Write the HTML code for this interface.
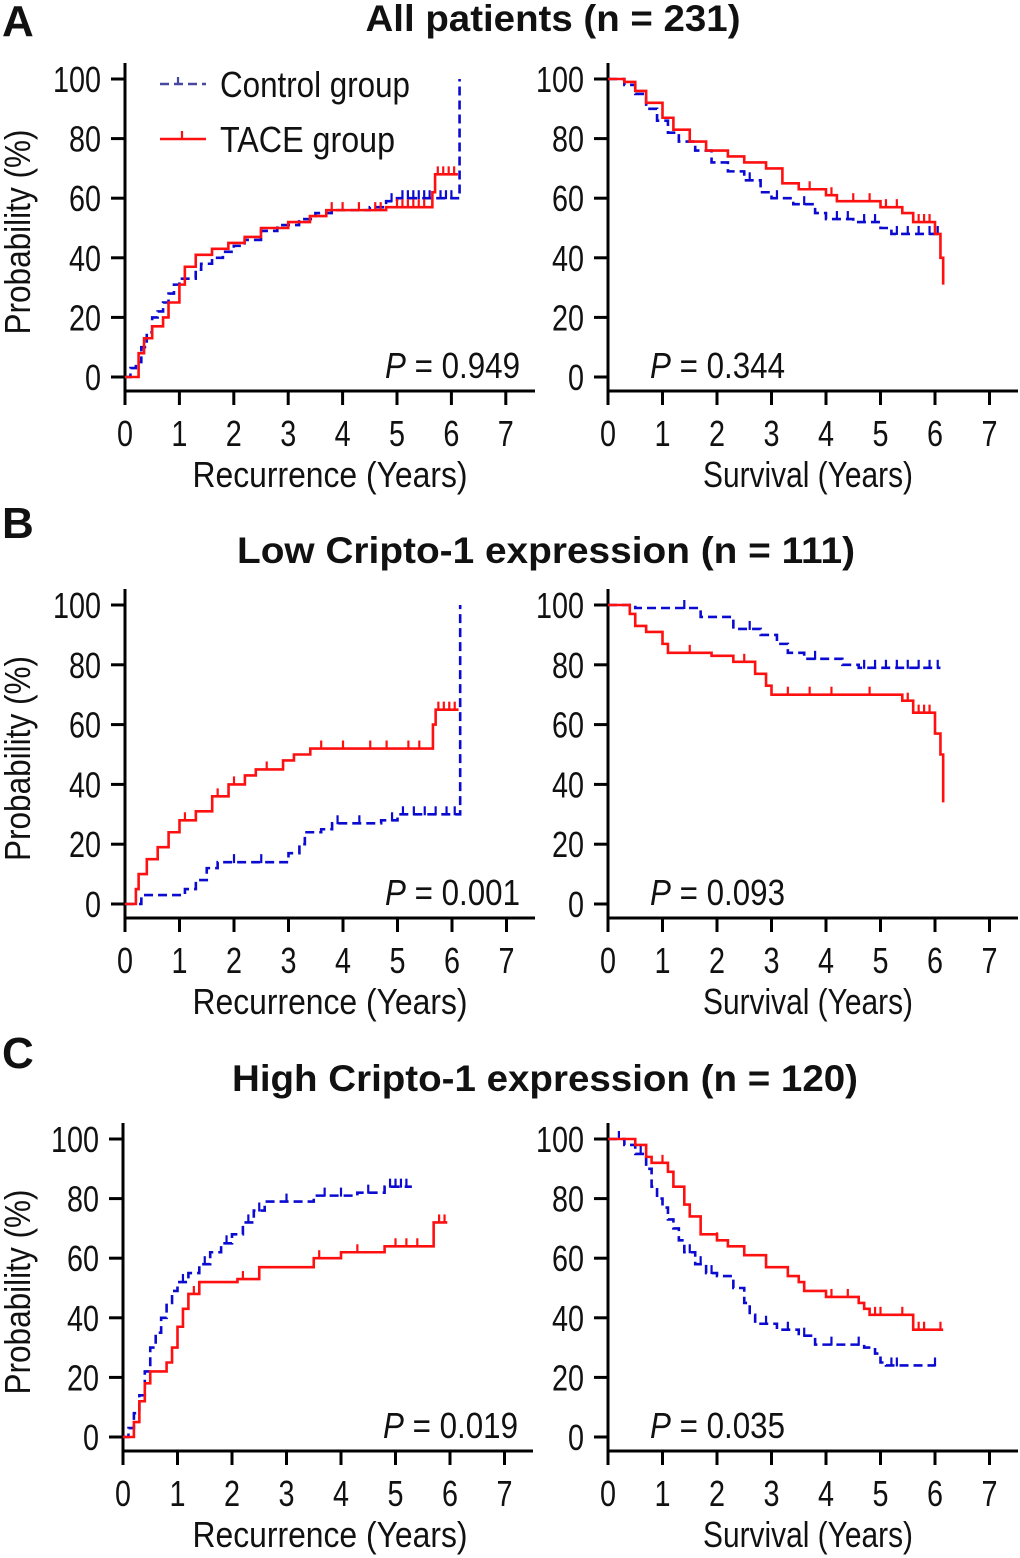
<!DOCTYPE html>
<html><head><meta charset="utf-8">
<style>
html,body{margin:0;padding:0;background:#fff;}
svg{display:block;}
.tk{font-family:"Liberation Sans",sans-serif;font-size:36px;fill:#111;}
.ttl{font-family:"Liberation Sans",sans-serif;font-size:37px;font-weight:bold;fill:#111;}
.lab{font-family:"Liberation Sans",sans-serif;font-size:44px;font-weight:bold;fill:#111;}
</style></head>
<body>
<svg id="fig" width="1020" height="1558" viewBox="0 0 1020 1558" xmlns="http://www.w3.org/2000/svg">
<text class="lab" x="2" y="36">A</text>
<text class="ttl" x="553" y="31" text-anchor="middle" textLength="375" lengthAdjust="spacingAndGlyphs">All patients (n = 231)</text>
<text class="lab" x="2" y="538">B</text>
<text class="ttl" x="546" y="563" text-anchor="middle" textLength="618" lengthAdjust="spacingAndGlyphs">Low Cripto-1 expression (n = 111)</text>
<text class="lab" x="2" y="1068">C</text>
<text class="ttl" x="545" y="1091" text-anchor="middle" textLength="626" lengthAdjust="spacingAndGlyphs">High Cripto-1 expression (n = 120)</text>
</svg>
<script>
// ---- data (years, % probability) ----
const xTicks = [0,1,2,3,4,5,6,7];
const yTicks = [0,20,40,60,80,100];
// Panel A recurrence
const aRecCtrlT = [0.1,0.2,0.3,0.4,0.5,0.6,0.7,0.8,0.9,1.0,1.3,1.4,1.6,1.8,2.0,2.2,2.5,2.8,3.2,3.5,3.8,4.5,4.8,5.0,6.15];
const aRecCtrlV = [3,5,10,15,20,22,25,28,31,33,36,38,40,42,44,46,49,51,53,55,56,57,59,60,100];
const aRecCtrlEnd = 6.15;
const aRecCtrlCens = [4.9,5.1,5.2,5.3,5.4,5.5,5.6,5.8,5.9,6.0];
const aRecTaceT = [0.2,0.25,0.35,0.5,0.7,0.8,1.0,1.1,1.3,1.6,1.9,2.2,2.5,3.0,3.4,3.7,4.8,5.65,5.7];
const aRecTaceV = [0,8,13,17,20,25,31,37,41,43,45,47,50,52,54,56,57,62,68];
const aRecTaceEnd = 6.12;
const aRecTaceCens = [3.8,4.0,4.3,4.6,4.7,5.0,5.1,5.2,5.3,5.4,5.5,5.75,5.85,5.95,6.05];
// Panel A survival
const aSurCtrlT = [0.3,0.5,0.7,0.9,1.1,1.3,1.6,1.9,2.2,2.5,2.8,3.0,3.4,3.8,4.0,4.5,5.0,5.2];
const aSurCtrlV = [98,95,90,86,82,79,76,72,69,66,62,60,58,55,53,52,50,48];
const aSurCtrlEnd = 6.1;
const aSurCtrlCens = [2.6,3.1,3.6,4.2,4.4,4.7,4.9,5.3,5.5,5.7,5.9,6.05];
const aSurTaceT = [0.3,0.5,0.7,1.0,1.2,1.5,1.8,2.2,2.5,2.9,3.2,3.5,4.0,4.2,5.0,5.4,5.6,6.0,6.1,6.15];
const aSurTaceV = [99,96,92,87,83,79,76,74,72,70,65,63,61,59,57,55,52,48,40,31];
const aSurTaceEnd = 6.15;
const aSurTaceCens = [3.7,4.1,4.5,4.8,5.1,5.3,5.7,5.8,5.9];
// Panel B recurrence
const bRecCtrlT = [0.3,1.1,1.3,1.5,1.7,3.0,3.2,3.3,3.6,3.8,4.7,5.0,6.15];
const bRecCtrlV = [3,5,8,12,14,17,20,24,25,27,28,30,100];
const bRecCtrlEnd = 6.15;
const bRecCtrlCens = [2.0,2.5,3.9,4.3,4.9,5.1,5.3,5.5,5.7,5.9,6.05];
const bRecTaceT = [0.2,0.25,0.4,0.6,0.8,1.0,1.3,1.6,1.9,2.2,2.4,2.9,3.1,3.4,5.65,5.7];
const bRecTaceV = [5,10,15,19,24,28,31,36,40,43,45,48,50,52,60,65];
const bRecTaceEnd = 6.12;
const bRecTaceCens = [1.1,1.7,2.0,2.6,3.6,4.0,4.5,4.8,5.2,5.4,5.75,5.85,5.95,6.05];
// Panel B survival
const bSurCtrlT = [0.5,1.7,2.3,2.8,3.1,3.3,3.6,4.3,4.6];
const bSurCtrlV = [99,96,92,90,87,84,82,80,79];
const bSurCtrlEnd = 6.1;
const bSurCtrlCens = [1.4,2.6,3.8,4.7,4.9,5.1,5.3,5.5,5.7,5.9,6.05];
const bSurTaceT = [0.4,0.5,0.7,1.0,1.1,1.9,2.3,2.7,2.9,3.0,5.4,5.6,6.0,6.1,6.15];
const bSurTaceV = [97,93,91,87,84,83,81,77,73,70,68,64,57,50,34];
const bSurTaceEnd = 6.15;
const bSurTaceCens = [1.5,2.5,3.3,3.7,4.1,4.8,5.5,5.7,5.8,5.9];
// Panel C recurrence
const cRecCtrlT = [0.1,0.2,0.3,0.4,0.5,0.6,0.7,0.8,0.9,1.0,1.2,1.4,1.6,1.8,2.0,2.2,2.4,2.6,3.5,4.3,4.8];
const cRecCtrlV = [3,8,14,22,30,35,40,45,49,52,55,58,62,65,68,72,76,79,81,82,84];
const cRecCtrlEnd = 5.3;
const cRecCtrlCens = [1.1,1.5,1.9,2.3,2.5,3.0,3.7,4.0,4.5,4.9,5.0,5.1,5.2];
const cRecTaceT = [0.2,0.3,0.4,0.5,0.8,0.9,1.0,1.1,1.2,1.4,2.1,2.5,3.5,4.0,4.8,5.7];
const cRecTaceV = [5,12,18,22,25,30,37,43,48,52,53,57,60,62,64,72];
const cRecTaceEnd = 5.95;
const cRecTaceCens = [1.3,2.2,3.6,4.3,5.0,5.2,5.4,5.8,5.9];
// Panel C survival
const cSurCtrlT = [0.3,0.5,0.7,0.8,0.9,1.0,1.1,1.2,1.3,1.4,1.6,1.8,2.0,2.3,2.5,2.6,2.7,3.1,3.5,3.8,4.7,4.9,5.0,5.1];
const cSurCtrlV = [98,95,90,84,80,77,73,70,66,62,58,55,54,50,45,41,38,36,34,31,30,28,25,24];
const cSurCtrlEnd = 6.0;
const cSurCtrlCens = [0.2,0.6,1.5,1.7,1.9,2.9,3.3,3.6,4.1,4.6,5.2,5.3,6.0];
const cSurTaceT = [0.5,0.7,0.8,1.1,1.2,1.4,1.5,1.7,2.0,2.2,2.5,2.9,3.3,3.5,3.6,4.0,4.6,4.7,4.8,5.6];
const cSurTaceV = [98,94,92,89,84,78,74,68,66,64,61,57,54,52,49,47,45,43,41,36];
const cSurTaceEnd = 6.15;
const cSurTaceCens = [1.0,2.0,4.1,4.4,4.9,5.0,5.4,5.7,5.8,6.1];

const panels = [
 {id:'a-recurrence', ox:125, y100:79, y0:377, ax:391, ppy:54.4, xl:'Recurrence (Years)', p:'0.949', pRight:true, legend:true,
  ctrl:[aRecCtrlT,aRecCtrlV,aRecCtrlEnd,aRecCtrlCens,0], tace:[aRecTaceT,aRecTaceV,aRecTaceEnd,aRecTaceCens,0]},
 {id:'a-survival', ox:608, y100:79, y0:377, ax:391, ppy:54.5, xl:'Survival (Years)', p:'0.344', pRight:false,
  ctrl:[aSurCtrlT,aSurCtrlV,aSurCtrlEnd,aSurCtrlCens,100], tace:[aSurTaceT,aSurTaceV,aSurTaceEnd,aSurTaceCens,100]},
 {id:'b-recurrence', ox:125, y100:605, y0:904, ax:918, ppy:54.5, xl:'Recurrence (Years)', p:'0.001', pRight:true,
  ctrl:[bRecCtrlT,bRecCtrlV,bRecCtrlEnd,bRecCtrlCens,0], tace:[bRecTaceT,bRecTaceV,bRecTaceEnd,bRecTaceCens,0]},
 {id:'b-survival', ox:608, y100:605, y0:904, ax:918, ppy:54.5, xl:'Survival (Years)', p:'0.093', pRight:false,
  ctrl:[bSurCtrlT,bSurCtrlV,bSurCtrlEnd,bSurCtrlCens,100], tace:[bSurTaceT,bSurTaceV,bSurTaceEnd,bSurTaceCens,100]},
 {id:'c-recurrence', ox:123, y100:1139, y0:1437, ax:1451, ppy:54.5, xl:'Recurrence (Years)', p:'0.019', pRight:true,
  ctrl:[cRecCtrlT,cRecCtrlV,cRecCtrlEnd,cRecCtrlCens,0], tace:[cRecTaceT,cRecTaceV,cRecTaceEnd,cRecTaceCens,0]},
 {id:'c-survival', ox:608, y100:1139, y0:1437, ax:1451, ppy:54.5, xl:'Survival (Years)', p:'0.035', pRight:false,
  ctrl:[cSurCtrlT,cSurCtrlV,cSurCtrlEnd,cSurCtrlCens,100], tace:[cSurTaceT,cSurTaceV,cSurTaceEnd,cSurTaceCens,100]}
];
const NS='http://www.w3.org/2000/svg';
const svg=document.getElementById('fig');
function mk(tag,attrs,parent,text){const e=document.createElementNS(NS,tag);for(const k in attrs)e.setAttribute(k,attrs[k]);if(text!==undefined)e.textContent=text;(parent||svg).appendChild(e);return e;}

panels.forEach(P=>{
 const xS=t=>P.ox+t*P.ppy;
 const yS=v=>P.y0-(v/100)*(P.y0-P.y100);
 const g=mk('g',{});
 
 
 const yax=mk('line',{x1:P.ox,y1:P.y100-16,x2:P.ox,y2:P.ax,stroke:'#000','stroke-width':3},g);
 
 
 const xax=mk('line',{x1:P.ox-1.5,y1:P.ax,x2:P.ox+410,y2:P.ax,stroke:'#000','stroke-width':3},g);
 
 
 yTicks.forEach(v=>{
  mk('line',{x1:P.ox-14,y1:yS(v),x2:P.ox,y2:yS(v),stroke:'#000','stroke-width':3},g);
  const t=mk('text',{class:'tk',x:0,y:0,'text-anchor':'end',transform:`translate(${P.ox-24},${yS(v)+13}) scale(0.8,1)`},g,String(v));
  
  
 });
 xTicks.forEach(v=>{
  mk('line',{x1:xS(v),y1:P.ax,x2:xS(v),y2:P.ax+14,stroke:'#000','stroke-width':3},g);
  const t=mk('text',{class:'tk',x:0,y:0,'text-anchor':'middle',transform:`translate(${xS(v)},${P.ax+55}) scale(0.8,1)`},g,String(v));
  
  
 });
 const isRec=P.ox<300;
 const xt=mk('text',{class:'tk',x:isRec?330:808,y:P.ax+96,'text-anchor':'middle',textLength:isRec?275:210,lengthAdjust:'spacingAndGlyphs'},g,P.xl);
 
 
 if(isRec){
  const cy=(P.y100+P.y0)/2+4;
  const yt=mk('text',{class:'tk',x:0,y:0,'text-anchor':'middle',textLength:205,lengthAdjust:'spacingAndGlyphs',transform:`translate(30,${cy}) rotate(-90)`},g,'Probability (%)');
  
  
 }
 const pt=mk('text',{class:'tk',x:P.pRight?P.ox+260:P.ox+42,y:P.y0+1,textLength:135,lengthAdjust:'spacingAndGlyphs'},g);
 
 
 mk('tspan',{'font-style':'italic'},pt,'P');
 mk('tspan',{},pt,' = '+P.p);
 function curve(c,color,dash,name){
  const [T,V,end,C,start]=c;
  let d=`M${xS(0)},${yS(start)}`;
  for(let i=0;i<T.length;i++){d+=` H${xS(T[i])} V${yS(V[i])}`;}
  const lastT=T.length?T[T.length-1]:0;
  if(end>lastT)d+=` H${xS(end)}`;
  const p=mk('path',{d,fill:'none',stroke:color,'stroke-width':2.6,'stroke-dasharray':dash},g);
  
  
  const valAt=t=>{let v=start;for(let i=0;i<T.length;i++){if(T[i]<=t&&!(T[i]===end&&V[i]===100))v=V[i];}return v;};
  C.forEach(t=>{
   const y=yS(valAt(t));
   const m=mk('line',{x1:xS(t),y1:y-8,x2:xS(t),y2:y+1,stroke:color,'stroke-width':2.2},g);
   
   
  });
 }
 curve(P.ctrl,'#0a0ad0','9 5','control-group');
 curve(P.tace,'#ff1010','none','tace-group');
 if(P.legend){
  const lg=mk('g',{},g);
  
  
  mk('line',{x1:160,y1:84,x2:206,y2:84,stroke:'#4848a0','stroke-width':2.6,'stroke-dasharray':'9 5'},lg);
  mk('line',{x1:178,y1:77,x2:178,y2:84,stroke:'#4848a0','stroke-width':2.2},lg);
  const l1=mk('text',{class:'tk',x:220,y:97,textLength:190,lengthAdjust:'spacingAndGlyphs'},lg,'Control group');
  
  
  mk('line',{x1:160,y1:139,x2:206,y2:139,stroke:'#ff1010','stroke-width':2.6},lg);
  mk('line',{x1:182,y1:131,x2:182,y2:139,stroke:'#ff1010','stroke-width':2.2},lg);
  const l2=mk('text',{class:'tk',x:220,y:152,textLength:175,lengthAdjust:'spacingAndGlyphs'},lg,'TACE group');
  
  
 }
});
</script>
</body></html>
